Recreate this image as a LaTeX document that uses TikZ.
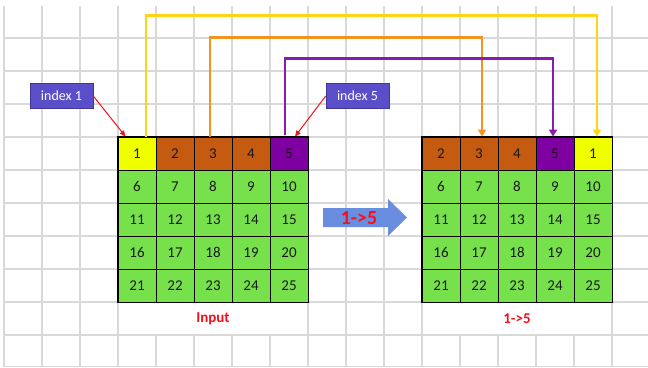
\documentclass[tikz,border=0pt]{standalone}
\usepackage{fontspec}
\setmainfont{Carlito}
\usetikzlibrary{arrows.meta}
\definecolor{gridc}{HTML}{D9D9D9}
\definecolor{cgreen}{HTML}{77E14C}
\definecolor{cyel}{HTML}{F0FF00}
\definecolor{cbrown}{HTML}{C55A11}
\definecolor{cpurp}{HTML}{7F00A0}
\definecolor{lyel}{HTML}{FFD414}
\definecolor{lorange}{HTML}{F39322}
\definecolor{lpurp}{HTML}{8B1AAE}
\definecolor{idxfill}{HTML}{5B4FC9}
\definecolor{idxdraw}{HTML}{3F369E}
\definecolor{barrow}{HTML}{6A8EDF}
\definecolor{cred}{HTML}{F5101E}
\begin{document}
\begin{tikzpicture}[x=1pt,y=-1pt,
  gridline/.style={draw=gridc, line width=1.2},
  cell/.style={draw=black, line width=0.9, minimum width=38, minimum height=33, inner sep=0,
    font=\fontsize{15}{15}\selectfont, text=black!90},
  idx/.style={fill=idxfill, draw=idxdraw, line width=0.6, minimum width=63, minimum height=25,
    inner sep=0, text=white, font=\fontsize{14}{14}\selectfont},
  conn/.style={line width=2.6, -{Triangle[width=8,length=7]}},
  redarr/.style={draw=cred, line width=1, -{Triangle[width=5,length=6]}},
  lab/.style={text=cred, font=\bfseries\fontsize{15}{15}\selectfont, inner sep=0}]
\useasboundingbox (0,0) rectangle (648,367);
\fill[white] (0,0) rectangle (648,367);
% sheet grid
\foreach \k in {0,...,16}{
  \draw[gridline] ({4+38*\k},6) -- ({4+38*\k},367);
}
\foreach \k in {0,...,9}{
  \draw[gridline] (4,{38+33*\k}) -- (648,{38+33*\k});
}
\draw[gridline] (4,366.4) -- (648,366.4);
% merged label cells
\fill[white] (118.6,302.6) rectangle (307.4,334.4);
\fill[white] (422.6,302.6) rectangle (611.4,334.4);
% tables
\foreach \r in {1,...,4}{
  \foreach \c in {0,...,4}{
    \pgfmathtruncatemacro\n{5*\r+\c+1}
    \node[cell, fill=cgreen] (L\n) at ({137+38*\c},{153.5+33*\r}) {\n};
    \node[cell, fill=cgreen] (R\n) at ({441+38*\c},{153.5+33*\r}) {\n};
  }
}
\node[cell, fill=cyel]   (L1) at (137,153.5) {1};
\node[cell, fill=cbrown] (L2) at (175,153.5) {2};
\node[cell, fill=cbrown] (L3) at (213,153.5) {3};
\node[cell, fill=cbrown] (L4) at (251,153.5) {4};
\node[cell, fill=cpurp]  (L5) at (289,153.5) {5};
\node[cell, fill=cbrown] (R1) at (441,153.5) {2};
\node[cell, fill=cbrown] (R2) at (479,153.5) {3};
\node[cell, fill=cbrown] (R3) at (517,153.5) {4};
\node[cell, fill=cpurp]  (R4) at (555,153.5) {5};
\node[cell, fill=cyel]   (R5) at (593,153.5) {1};
\draw[line width=1.3] (L1.north west) rectangle (L25.south east);
\draw[line width=1.3] (R1.north west) rectangle (R25.south east);
% move connectors
\draw[conn, draw=lyel] ([xshift=9]L1.north) -- ++(0,-121) -| ([xshift=4]R5.north);
\draw[conn, draw=lorange] ([xshift=-3]L3.north) -- ++(0,-99) -| ([xshift=3]R2.north);
\draw[conn, draw=lpurp] ([xshift=-4,yshift=2]L5.north) -- ++(0,-76) -| ([xshift=-2]R4.north);
% index labels
\node[idx] (i1) at (61.5,96) {index 1};
\node[idx] (i5) at (357.5,96) {index 5};
\draw[redarr] (i1.east) -- ([xshift=8]L1.north west);
\draw[redarr] (i5.west) -- ([xshift=6]L5.north);
% shift arrow
\fill[barrow] (323,208) -- (388,208) -- (388,199) -- (407,217.5) -- (388,236) -- (388,227) -- (323,227) -- cycle;
\node[text=cred, font=\bfseries\fontsize{20}{20}\selectfont, inner sep=0] (shift) at (359,218) {1->5};
% bottom labels
\node[lab] (inlab) at (213,318.5) {Input};
\node[lab] (outlab) at (517,318.5) {1->5};
\end{tikzpicture}
\end{document}
